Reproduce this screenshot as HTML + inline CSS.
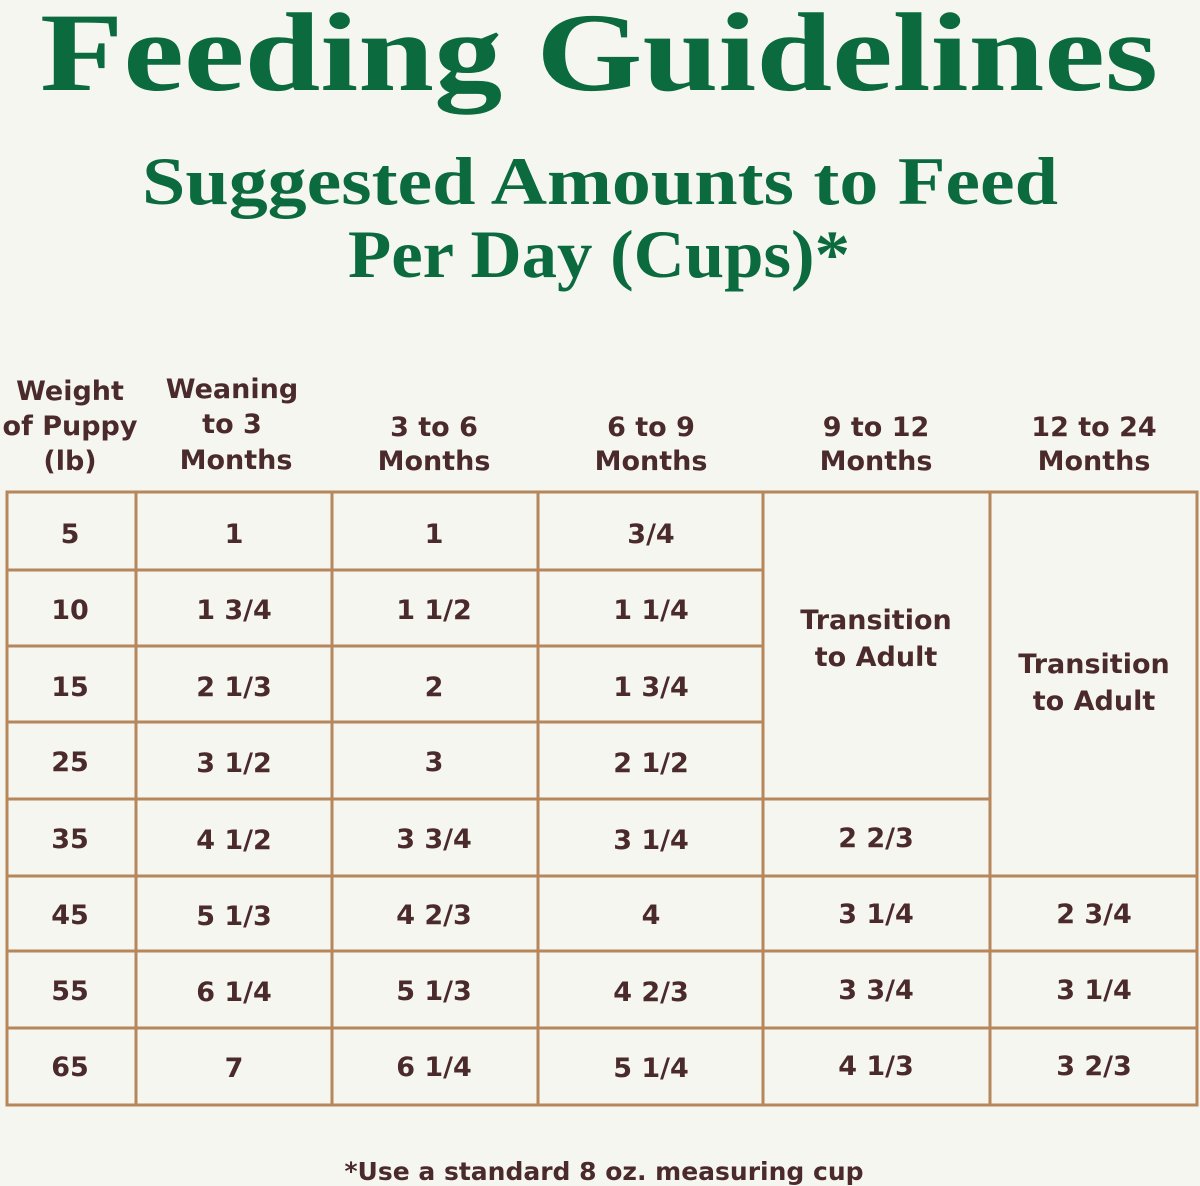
<!DOCTYPE html>
<html><head><meta charset="utf-8"><style>
html,body{margin:0;padding:0;background:#f6f6f1;}
svg{display:block}
.t{font-family:"Liberation Serif",serif;font-weight:bold;fill:#0b6a3e}
.c{font-family:"DejaVu Sans","Liberation Sans",sans-serif;font-weight:bold;fill:#4b2a2c;font-size:27px;text-anchor:middle}
</style></head><body>
<svg width="1200" height="1186" viewBox="0 0 1200 1186" xmlns="http://www.w3.org/2000/svg">
<rect width="1200" height="1186" fill="#f6f6f1"/>
<text class="t" x="40" y="90" font-size="112" textLength="1118" lengthAdjust="spacingAndGlyphs">Feeding Guidelines</text>
<text class="t" x="142" y="204" font-size="68" textLength="916" lengthAdjust="spacingAndGlyphs">Suggested Amounts to Feed</text>
<text class="t" x="348" y="277" font-size="68" textLength="502" lengthAdjust="spacingAndGlyphs">Per Day (Cups)*</text>
<g class="c">
<text x="70" y="400">Weight</text><text x="70" y="435">of Puppy</text><text x="70" y="470">(lb)</text>
<text x="232" y="398">Weaning</text><text x="232" y="433">to 3</text><text x="236" y="469">Months</text>
<text x="434" y="436">3 to 6</text><text x="434" y="470">Months</text>
<text x="651" y="436">6 to 9</text><text x="651" y="470">Months</text>
<text x="876" y="436">9 to 12</text><text x="876" y="470">Months</text>
<text x="1094" y="436">12 to 24</text><text x="1094" y="470">Months</text>
</g>
<g stroke="#b5875a" stroke-width="3" fill="none">
<rect x="7" y="492" width="1190" height="613"/>
<line x1="136" y1="492" x2="136" y2="1105"/>
<line x1="332" y1="492" x2="332" y2="1105"/>
<line x1="538" y1="492" x2="538" y2="1105"/>
<line x1="763" y1="492" x2="763" y2="1105"/>
<line x1="990" y1="492" x2="990" y2="1105"/>
<line x1="7" y1="570" x2="763" y2="570"/>
<line x1="7" y1="646" x2="763" y2="646"/>
<line x1="7" y1="722" x2="763" y2="722"/>
<line x1="7" y1="799" x2="990" y2="799"/>
<line x1="7" y1="876" x2="1197" y2="876"/>
<line x1="7" y1="951" x2="1197" y2="951"/>
<line x1="7" y1="1028" x2="1197" y2="1028"/>
</g>
<g class="c">
<text x="70" y="543">5</text><text x="234" y="543">1</text><text x="434" y="543">1</text><text x="651" y="543">3/4</text>
<text x="70" y="619">10</text><text x="234" y="619">1 3/4</text><text x="434" y="619">1 1/2</text><text x="651" y="619">1 1/4</text>
<text x="70" y="696">15</text><text x="234" y="696">2 1/3</text><text x="434" y="696">2</text><text x="651" y="696">1 3/4</text>
<text x="70" y="771">25</text><text x="234" y="772">3 1/2</text><text x="434" y="771">3</text><text x="651" y="772">2 1/2</text>
<text x="70" y="848">35</text><text x="234" y="849">4 1/2</text><text x="434" y="848">3 3/4</text><text x="651" y="849">3 1/4</text><text x="876" y="847">2 2/3</text>
<text x="70" y="924">45</text><text x="234" y="925">5 1/3</text><text x="434" y="924">4 2/3</text><text x="651" y="924">4</text><text x="876" y="923">3 1/4</text><text x="1094" y="923">2 3/4</text>
<text x="70" y="1000">55</text><text x="234" y="1001">6 1/4</text><text x="434" y="1000">5 1/3</text><text x="651" y="1001">4 2/3</text><text x="876" y="999">3 3/4</text><text x="1094" y="999">3 1/4</text>
<text x="70" y="1076">65</text><text x="234" y="1077">7</text><text x="434" y="1076">6 1/4</text><text x="651" y="1077">5 1/4</text><text x="876" y="1075">4 1/3</text><text x="1094" y="1075">3 2/3</text>
<text x="876" y="629">Transition</text><text x="876" y="666">to Adult</text>
<text x="1094" y="673">Transition</text><text x="1094" y="710">to Adult</text>
<text x="604" y="1180" font-size="25">*Use a standard 8 oz. measuring cup</text>
</g>
</svg>
</body></html>
